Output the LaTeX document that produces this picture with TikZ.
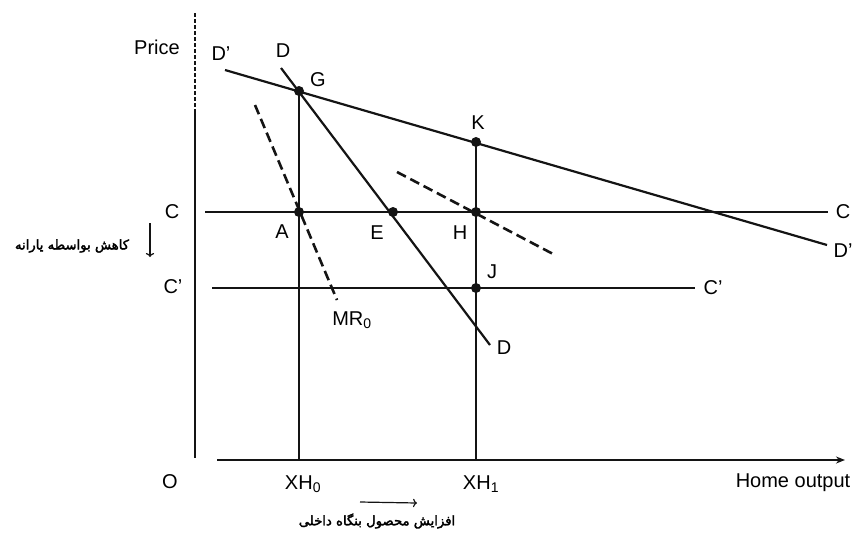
\documentclass[tikz,border=0pt]{standalone}
\usepackage{fontspec}
\setmainfont{Liberation Sans}
\newfontfamily\farsifont[Script=Arabic, FakeBold=2.5]{DejaVu Sans}
\TeXXeTstate=1
\usetikzlibrary{arrows.meta}

\begin{document}
\begin{tikzpicture}[x=1pt, y=-1pt]

  % ---- sizing knobs ----
  \pgfmathsetmacro{\OXx}{195}   % price axis x
  \pgfmathsetmacro{\OYy}{460}   % output axis y
  \pgfmathsetmacro{\Cy}{212}    % cost line C
  \pgfmathsetmacro{\Cpy}{288}   % cost line C'
  \pgfmathsetmacro{\XHo}{299}   % output XH0
  \pgfmathsetmacro{\XHi}{476}   % output XH1

  \definecolor{EQLine}{gray}{0.08}

  \tikzset{
    curve/.style={EQLine, line width=2.2pt},
    costline/.style={EQLine, line width=1.5pt},
    mrline/.style={EQLine, line width=2.6pt, dash pattern=on 10pt off 5pt},
    axisline/.style={EQLine, line width=1.8pt},
    eqdot/.style={circle, fill=EQLine, inner sep=0pt, minimum size=10pt},
    lbl/.style={font=\fontsize{20}{22}\selectfont, inner sep=1pt},
    farsi/.style={font=\farsifont\fontsize{13.2}{15}\selectfont, inner sep=1pt}
  }

  \useasboundingbox (0,0) rectangle (854,542);

  % ---- axes ----
  \coordinate (Ptop) at (\OXx,13);
  \coordinate (Pmid) at (\OXx,110);
  \coordinate (Pbot) at (\OXx,458);
  \coordinate (Qleft) at (217,\OYy);
  \coordinate (Qright) at (845,\OYy);
  \draw[axisline, dash pattern=on 4pt off 2pt] (Ptop) -- (Pmid);
  \draw[axisline] (Pmid) -- (Pbot);
  \draw[axisline, -{Stealth[length=9pt, width=7pt]}] (Qleft) -- (Qright);

  % ---- cost lines ----
  \coordinate (Cl) at (205,\Cy);
  \coordinate (Cr) at (828,\Cy);
  \coordinate (Cpl) at (212,\Cpy);
  \coordinate (Cpr) at (695,\Cpy);
  \draw[costline] (Cl) -- (Cr);
  \draw[costline] (Cpl) -- (Cpr);

  % ---- demand and marginal revenue ----
  \coordinate (Dpa) at (225,70);
  \coordinate (Dpb) at (827,245);
  \coordinate (Da) at (281,68);
  \coordinate (Db) at (490,345);
  \coordinate (MRa) at (255,105);
  \coordinate (MRb) at (337,300);
  \coordinate (MSa) at (397,172);
  \coordinate (MSb) at (555,255);
  \draw[curve] (Dpa) -- (Dpb);
  \draw[curve] (Da) -- (Db);
  \draw[mrline] (MRa) -- (MRb);
  \draw[mrline] (MSa) -- (MSb);

  % ---- equilibrium points ----
  \node[eqdot] (G) at (\XHo,91) {};
  \node[eqdot] (A) at (\XHo,\Cy) {};
  \node[eqdot] (E) at (393,\Cy) {};
  \node[eqdot] (H) at (\XHi,\Cy) {};
  \node[eqdot] (K) at (\XHi,142) {};
  \node[eqdot] (J) at (\XHi,\Cpy) {};
  \coordinate (XHob) at (\XHo,\OYy);
  \coordinate (XHib) at (\XHi,\OYy);
  \draw[costline] (G.center) -- (XHob);
  \draw[costline] (K.center) -- (XHib);

  % ---- labels ----
  \node[lbl] (price) at (157,47) {Price};
  \node[lbl] (lDpa) at (221,54) {D'};
  \node[lbl] (lDa) at (283,51) {D};
  \node[lbl] (lG) at (318,80) {G};
  \node[lbl] (lK) at (478,123) {K};
  \node[lbl] (lA) at (282,232) {A};
  \node[lbl] (lE) at (377,233) {E};
  \node[lbl] (lH) at (460,233) {H};
  \node[lbl] (lJ) at (492,272) {J};
  \node[lbl] (lDb) at (504,348) {D};
  \node[lbl] (lMR) at (352,320) {MR\textsubscript{0}};
  \node[lbl] (lCl) at (172,212) {C};
  \node[lbl] (lCpl) at (173,287) {C'};
  \node[lbl] (lCr) at (843,212) {C};
  \node[lbl] (lDpb) at (843,251) {D'};
  \node[lbl] (lCpr) at (713,288) {C'};
  \node[lbl] (lO) at (170,482) {O};
  \node[lbl] (lXHo) at (303,484) {XH\textsubscript{0}};
  \node[lbl] (lXHi) at (481,484) {XH\textsubscript{1}};
  \node[lbl] (lHome) at (793,483) {Home output};

  % ---- persian notes ----
  \node[farsi] (subsidy) at (72,246) {\beginR کاهش بواسطه یارانه\endR};
  \coordinate (Sa) at (150,223);
  \coordinate (Sb) at (150,257);
  \draw[EQLine, line width=1.2pt, -{To[length=4pt]}] (Sa) -- (Sb);
  \node[farsi] (growth) at (377,521) {\beginR افزایش محصول بنگاه داخلی\endR};
  \coordinate (Ga) at (360,502);
  \coordinate (Gb) at (417,503);
  \draw[EQLine, line width=1.2pt, -{To[length=4pt]}] (Ga) -- (Gb);

\end{tikzpicture}
\end{document}
